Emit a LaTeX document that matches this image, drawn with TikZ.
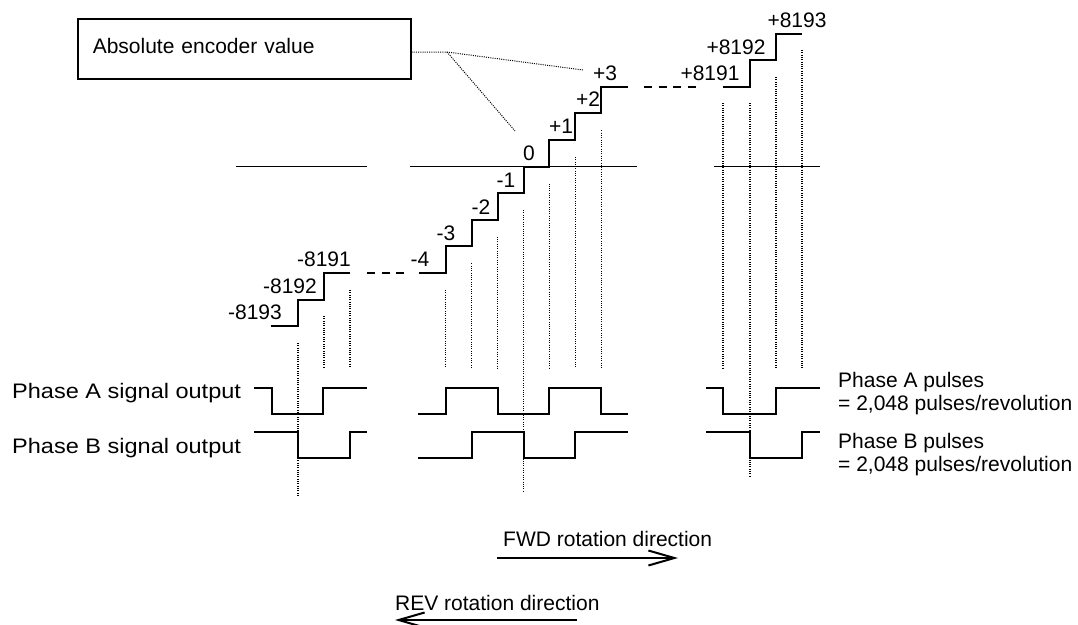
\documentclass[tikz,border=0pt]{standalone}
\usepackage{fontspec}
\setmainfont{Liberation Sans}
\newfontfamily\widesans[FakeStretch=1.12]{Liberation Sans}
\usetikzlibrary{arrows.meta, positioning}

\begin{document}
\begin{tikzpicture}[x=1pt, y=-1pt,
  txt/.style={inner sep=0pt, font=\fontsize{21}{23}\selectfont, text height=15pt, text depth=0pt},
  val/.style={txt, anchor=center},
  note/.style={txt, anchor=west},
  sig/.style={note, font=\widesans\fontsize{21}{23}\selectfont},
  stair/.style={line width=2pt},
  level/.style={line width=1.9pt},
  gap/.style={line width=1.9pt, dash pattern=on 8pt off 6.5pt},
  tick/.style={line width=1.1pt, dash pattern=on 1pt off 1.3pt},
  wave/.style={line width=2pt},
  call/.style={line width=1pt, dash pattern=on 1pt off 1.2pt},
  rot/.style={line width=2pt, -{Straight Barb[length=26pt, width=15pt]}}]

  \useasboundingbox (0,0) rectangle (1078,624);

  \node[txt, draw, line width=1.5pt, anchor=north west, text depth=6pt,
        minimum width=333pt, minimum height=60pt, text width=303pt, align=left,
        inner xsep=15pt] (enc) at (77,18) {Absolute encoder value};

  % count levels
  \draw[level] (236,166.5) -- (367,166.5);
  \draw[level] (410,166.5) -- (637,166.5);
  \draw[level] (714,166.5) -- (820,166.5);

  \draw[stair] (271,326.2) -| (298,299.6) -| (324,272.9) -- (350,272.9);
  \draw[stair] (419,272.9) -| (445.8,246.3) -| (471.7,219.7) -| (497.6,193.1)
    -| (523.5,166.5) -| (549.4,139.9) -| (575.3,113.3) -| (601.2,86.7) -- (627.5,86.7);
  \draw[stair] (723,86.7) -| (750,60.1) -| (776,33.5) -- (802,33.5);

  \draw[gap] (367,272.9) -- (404,272.9);
  \draw[gap] (644,86.7) -- (696,86.7);

  \node[val] (m8193) at (255,312) {-8193};
  \node[val] (m8192) at (290,286) {-8192};
  \node[val] (m8191) at (324,259) {-8191};
  \node[val] (m4) at (420,259) {-4};
  \node[val] (m3) at (446,233) {-3};
  \node[val] (m2) at (481,207) {-2};
  \node[val] (m1) at (506,180) {-1};
  \node[val] (zero) at (529,153) {0};
  \node[val] (p1) at (561,126) {+1};
  \node[val] (p2) at (588,99) {+2};
  \node[val] (p3) at (605,73) {+3};
  \node[val] (p8191) at (710,73) {+8191};
  \node[val] (p8192) at (736,47) {+8192};
  \node[val] (p8193) at (797,20) {+8193};

  \coordinate (fork) at (447,52);
  \coordinate (tipA) at (583,70);
  \coordinate (tipB) at (515,131);
  \draw[call] (enc.east |- fork) -- (fork) -- (tipA);
  \draw[call] (fork) -- (tipB);

  % edge markers
  \foreach \x/\a/\b in {298/343/495, 324/316/368, 350/290/368,
      445.8/290/368, 471.7/263.3/368, 497.6/236.7/368, 523.5/210.1/492,
      549.4/183.5/368, 575.3/156.9/368, 601.2/130.3/368,
      723/103/368, 750/103/477, 776/77/368, 802/50/368}
    \draw[tick] (\x,\a) -- (\x,\b);

  % phase A
  \draw[wave] (254,388) -| (272,414) -| (323,388) -- (367,388);
  \draw[wave] (418,414) -| (445.8,388) -| (497.6,414) -| (549.4,388) -| (601.2,414) -- (628,414);
  \draw[wave] (706,388) -| (723,414) -| (776,388) -- (820,388);
  % phase B
  \draw[wave] (254,432) -| (298,458) -| (350,432) -- (367,432);
  \draw[wave] (418,458) -| (471.7,432) -| (523.5,458) -| (575.3,432) -- (628,432);
  \draw[wave] (706,432) -| (750,458) -| (802,432) -- (820,432);

  \node[sig] (sigA) at (12,391) {Phase A signal output};
  \node[sig] (sigB) at (12,446) {Phase B signal output};
  \node[note] (pulA) at (838,380) {Phase A pulses};
  \node[note] (revA) at (838,403) {= 2,048 pulses/revolution};
  \node[note] (pulB) at (838,441) {Phase B pulses};
  \node[note] (revB) at (838,464) {= 2,048 pulses/revolution};

  \node[note] (fwd) at (503,539) {FWD rotation direction};
  \coordinate (fwdL) at (497,558);
  \coordinate (fwdR) at (678,558);
  \draw[rot] (fwdL) -- (fwdR);

  \node[note] (rev) at (395,603) {REV rotation direction};
  \coordinate (revR) at (577,620);
  \coordinate (revL) at (395,620);
  \draw[rot] (revR) -- (revL);
\end{tikzpicture}
\end{document}
